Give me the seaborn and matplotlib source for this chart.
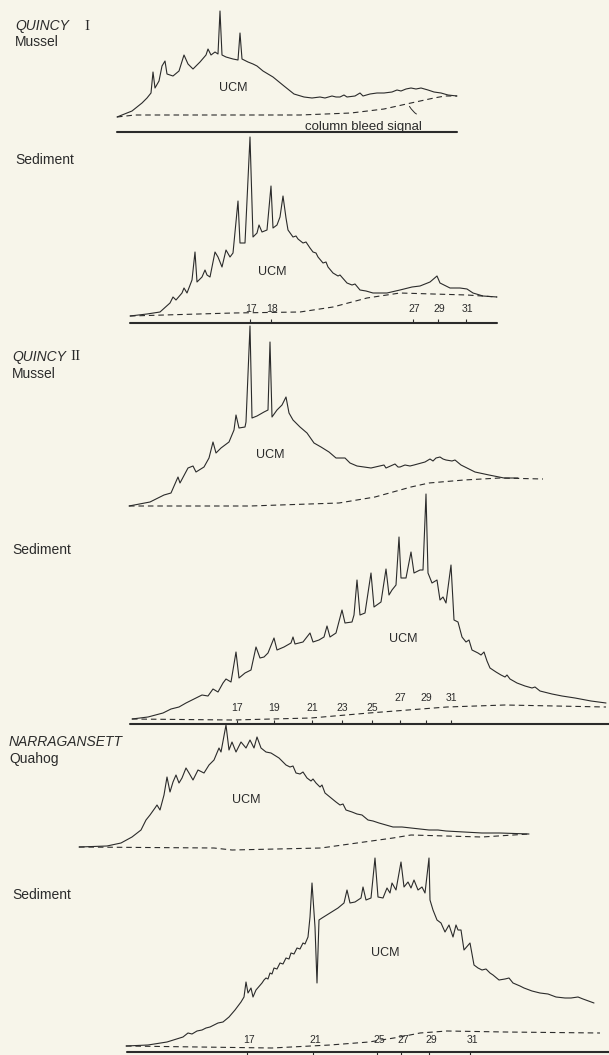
import pandas as pd
import matplotlib
matplotlib.use("Agg")
import matplotlib.pyplot as plt
import seaborn as sns

# ---- data: retention position (x) and detector signal height (y) per trace ----
# QUINCY I mussel
q1m_x = [117, 132, 142, 147, 151, 153, 155, 159, 162, 165, 167, 173, 179, 184, 188, 193, 200, 206, 208, 211,
         215, 218, 220, 222, 226, 233, 238, 240, 242, 248, 253, 257, 263, 273, 284, 294, 304, 312, 320, 325,
         332, 336, 340, 344, 347, 355, 360, 363, 370, 377, 384, 392, 397, 401, 406, 411, 416, 421, 428, 434,
         441, 448, 457]
q1m_y = [0, 6, 14, 19, 24, 45, 29, 36, 51, 56, 43, 41, 46, 62, 53, 48, 55, 62, 68, 62,
         65, 63, 106, 62, 60, 58, 57, 84, 58, 55, 53, 51, 46, 40, 31, 23, 20, 19, 20, 19,
         21, 20, 20, 22, 20, 21, 24, 21, 23, 24, 24, 25, 27, 26, 28, 29, 28, 29, 27, 25,
         24, 22, 21]
q1m_bleed_x = [117, 135, 233, 300, 351, 384, 411, 434, 445, 457]
q1m_bleed_y = [0, 2, 2, 2, 4, 8, 14, 19, 21, 21]

# QUINCY I sediment
q1s_x = [130, 147, 160, 170, 173, 176, 182, 184, 187, 192, 195, 197, 202, 205, 207, 210, 215, 218, 222, 226,
         230, 233, 238, 240, 245, 250, 253, 257, 259, 262, 267, 271, 273, 277, 280, 283, 286, 288, 293, 296,
         298, 303, 306, 310, 313, 316, 318, 323, 326, 328, 333, 338, 340, 347, 352, 355, 360, 366, 373, 387,
         400, 412, 420, 430, 437, 440, 450, 460, 467, 473, 483, 497]
q1s_y = [0, 2, 4, 13, 19, 16, 23, 28, 23, 36, 64, 34, 39, 46, 41, 39, 64, 59, 49, 66,
         59, 63, 115, 73, 73, 179, 79, 83, 91, 84, 86, 130, 88, 91, 99, 120, 98, 86, 79, 80,
         77, 73, 74, 68, 64, 63, 59, 53, 54, 49, 43, 40, 41, 33, 31, 32, 26, 25, 23, 23,
         26, 29, 30, 34, 40, 33, 28, 28, 27, 23, 20, 19]
q1s_bleed_x = [130, 233, 300, 333, 367, 400, 433, 467, 497]
q1s_bleed_y = [0, 3, 4, 9, 18, 23, 22, 21, 19]
q1s_ticks = [250, 271, 413, 438, 466]
q1s_labels = ["17", "18", "27", "29", "31"]

# QUINCY II mussel
q2m_x = [129, 150, 164, 171, 178, 180, 188, 193, 196, 204, 209, 213, 216, 221, 229, 234, 236, 239, 245, 246,
         250, 252, 257, 264, 268, 270, 272, 277, 282, 286, 289, 293, 300, 307, 314, 321, 329, 336, 345, 350,
         357, 371, 384, 386, 395, 398, 400, 405, 410, 414, 425, 430, 433, 436, 440, 443, 446, 452, 455, 461,
         475, 489, 504, 518]
q2m_y = [0, 4, 11, 13, 29, 23, 38, 40, 34, 39, 48, 64, 53, 58, 64, 76, 91, 78, 79, 84,
         180, 88, 90, 94, 96, 164, 89, 96, 101, 109, 93, 86, 79, 73, 63, 59, 54, 48, 48, 43,
         40, 38, 41, 38, 42, 39, 39, 41, 40, 41, 44, 47, 45, 48, 49, 47, 46, 45, 46, 41,
         34, 31, 28, 28]
q2m_bleed_x = [129, 250, 339, 375, 411, 429, 464, 500, 543]
q2m_bleed_y = [0, 0, 3, 9, 19, 23, 26, 28, 27]

# QUINCY II sediment
q2s_x = [132, 148, 163, 171, 179, 186, 192, 198, 202, 208, 213, 218, 223, 226, 231, 236, 239, 245, 251, 256,
         260, 264, 268, 274, 277, 284, 291, 293, 295, 303, 310, 313, 319, 324, 327, 330, 336, 342, 345, 352,
         354, 357, 360, 365, 371, 374, 381, 386, 389, 392, 396, 399, 401, 406, 411, 414, 420, 423, 426, 428,
         432, 437, 440, 443, 446, 451, 454, 458, 462, 466, 469, 472, 478, 481, 484, 487, 490, 496, 501, 505,
         507, 510, 517, 525, 532, 535, 540, 552, 562, 575, 591, 606]
q2s_y = [0, 2, 6, 10, 12, 16, 19, 22, 24, 23, 30, 27, 36, 40, 37, 67, 41, 46, 49, 72,
         61, 62, 66, 81, 69, 72, 76, 82, 75, 77, 86, 77, 79, 82, 93, 82, 86, 109, 96, 97,
         104, 139, 104, 106, 146, 112, 117, 150, 124, 129, 134, 182, 141, 141, 167, 146, 149, 149, 225, 146,
         136, 139, 119, 122, 116, 154, 99, 97, 82, 77, 79, 69, 66, 64, 67, 58, 51, 47, 44, 42,
         44, 40, 36, 33, 31, 32, 28, 25, 23, 21, 18, 16]
q2s_bleed_x = [132, 233, 311, 369, 408, 447, 505, 606]
q2s_bleed_y = [0, -1, 1, 6, 9, 12, 14, 12]
q2s_ticks = [237, 274, 312, 342, 372, 400, 426, 451]
q2s_labels = ["17", "19", "21", "23", "25", "27", "29", "31"]

# NARRAGANSETT quahog
nq_x = [79, 107, 121, 132, 141, 146, 150, 155, 157, 160, 164, 167, 170, 173, 176, 179, 182, 186, 189, 193,
        198, 204, 209, 214, 219, 221, 226, 229, 232, 236, 241, 246, 250, 254, 257, 261, 266, 271, 279, 286,
        290, 293, 296, 300, 303, 307, 311, 313, 316, 320, 322, 325, 336, 340, 343, 346, 352, 357, 362, 368,
        373, 379, 386, 393, 402, 411, 420, 429, 438, 446, 464, 482, 500, 529]
nq_y = [0, 1, 4, 10, 17, 27, 32, 39, 42, 37, 52, 70, 55, 65, 72, 64, 69, 79, 74, 67,
        77, 74, 82, 87, 99, 95, 122, 97, 105, 95, 105, 99, 107, 99, 110, 99, 95, 94, 89, 82,
        80, 81, 74, 73, 75, 69, 66, 68, 64, 60, 62, 54, 45, 42, 43, 37, 35, 33, 32, 27,
        26, 24, 22, 20, 20, 19, 18, 17, 17, 16, 15, 14, 14, 13]
nq_bleed_x = [79, 214, 232, 321, 357, 393, 411, 446, 482, 529]
nq_bleed_y = [0, -1, -3, -1, 4, 9, 12, 11, 10, 13]

# NARRAGANSETT sediment
ns_x = [126, 148, 167, 183, 188, 192, 197, 202, 206, 210, 214, 218, 223, 229, 235, 241, 244, 246, 248, 251,
        253, 256, 262, 264, 266, 268, 270, 272, 274, 277, 280, 283, 286, 289, 291, 294, 297, 300, 303, 305,
        308, 310, 312, 315, 317, 319, 322, 330, 338, 344, 347, 350, 355, 361, 363, 366, 371, 375, 378, 383,
        387, 390, 392, 396, 401, 404, 408, 411, 414, 418, 422, 425, 429, 430, 433, 437, 441, 445, 449, 453,
        456, 458, 461, 464, 470, 474, 478, 482, 486, 490, 493, 499, 505, 509, 513, 520, 524, 532, 540, 548,
        556, 565, 571, 578, 583, 594]
ns_y = [0, 1, 4, 9, 13, 12, 15, 16, 18, 19, 21, 23, 24, 29, 36, 44, 49, 64, 53, 58,
        49, 56, 63, 66, 68, 67, 73, 72, 78, 77, 83, 82, 88, 87, 93, 92, 98, 97, 103, 102,
        109, 129, 163, 119, 63, 126, 128, 133, 138, 143, 156, 143, 144, 148, 159, 146, 148, 188, 149, 148,
        158, 153, 163, 156, 184, 159, 164, 158, 166, 156, 159, 153, 188, 146, 136, 126, 123, 114, 121, 109,
        121, 116, 116, 96, 103, 81, 78, 76, 77, 73, 71, 66, 67, 68, 63, 60, 58, 55, 53, 52,
        49, 48, 48, 49, 47, 43]
ns_bleed_x = [126, 272, 330, 369, 400, 420, 447, 505, 600]
ns_bleed_y = [0, -2, 1, 4, 9, 13, 15, 14, 13]
ns_ticks = [247, 313, 377, 401, 429, 470]
ns_labels = ["17", "21", "25", "27", "29", "31"]

# ---- layout ----
W, H = 609, 1055
ink = "#2b2b2b"
sns.set_theme(style="white")
plt.rcParams["font.family"] = ["Liberation Sans", "DejaVu Sans"]

fig = plt.figure(figsize=(W / 100, H / 100), dpi=100)
fig.patch.set_facecolor("#f7f5ea")


def panel(base):
    # one data unit = one pixel; signal 0 sits on pixel row `base`
    ax = fig.add_axes([0, (H - base - 20) / H, 1, 260 / H])
    ax.set_xlim(0, W)
    ax.set_ylim(-20, 240)
    ax.axis("off")
    ax.patch.set_alpha(0)
    return ax


def trace(ax, x, y, bx, by):
    df = pd.DataFrame({"x": x, "y": y})
    sns.lineplot(data=df, x="x", y="y", ax=ax, sort=False, estimator=None,
                 color=ink, lw=0.8)
    bleed = pd.DataFrame({"x": bx, "y": by})
    sns.lineplot(data=bleed, x="x", y="y", ax=ax, sort=False, estimator=None,
                 color=ink, lw=0.8, linestyle=(0, (5, 3.5)))


def ftext(x, y, s, **kw):
    kw.setdefault("color", ink)
    kw.setdefault("fontsize", 10)
    fig.text(x / W, 1 - y / H, s, va="center", **kw)


# panel 1
ax1 = panel(117)
trace(ax1, q1m_x, q1m_y, q1m_bleed_x, q1m_bleed_y)
ax1.plot([117, 457], [-15, -15], color=ink, lw=1.5)
ax1.annotate("", xy=(419, 2), xytext=(408, 13),
             arrowprops=dict(arrowstyle="-", color=ink, lw=0.7,
                             connectionstyle="angle3,angleA=-60,angleB=170"))
ftext(363, 127, "column bleed signal", ha="center", fontsize=9.5)
ftext(233, 88, "UCM", ha="center", fontsize=9)
ftext(15, 26, "QUINCY", style="italic")
ftext(84, 26, "I", family="Liberation Serif", fontsize=11)
ftext(15, 42, "Mussel")

# panel 2
ax2 = panel(316)
trace(ax2, q1s_x, q1s_y, q1s_bleed_x, q1s_bleed_y)
ax2.plot([130, 497], [-7, -7], color=ink, lw=1.5)
ax2.vlines(q1s_ticks, -7, -3, color=ink, lw=0.8)
for tx, lab in zip(q1s_ticks, q1s_labels):
    ax2.text(tx + 1, 7, lab, ha="center", va="center", fontsize=7.5, color=ink)
ftext(272, 272, "UCM", ha="center", fontsize=9)
ftext(15, 160, "Sediment")

# panel 3
ax3 = panel(506)
trace(ax3, q2m_x, q2m_y, q2m_bleed_x, q2m_bleed_y)
ftext(270, 455, "UCM", ha="center", fontsize=9)
ftext(12, 357, "QUINCY", style="italic")
ftext(70, 357, "II", family="Liberation Serif", fontsize=11)
ftext(12, 374, "Mussel")

# panel 4
ax4 = panel(719)
trace(ax4, q2s_x, q2s_y, q2s_bleed_x, q2s_bleed_y)
ax4.plot([130, 609], [-5, -5], color=ink, lw=1.5)
ax4.vlines(q2s_ticks, -5, -1, color=ink, lw=0.8)
for i, (tx, lab) in enumerate(zip(q2s_ticks, q2s_labels)):
    ax4.text(tx, 21 if i >= 5 else 11, lab, ha="center", va="center", fontsize=7.5, color=ink)
ftext(403, 639, "UCM", ha="center", fontsize=9)
ftext(12, 550, "Sediment")

# panel 5
ax5 = panel(847)
trace(ax5, nq_x, nq_y, nq_bleed_x, nq_bleed_y)
ftext(246, 800, "UCM", ha="center", fontsize=9)
ftext(9, 742, "NARRAGANSETT", style="italic")
ftext(9, 759, "Quahog")

# panel 6
ax6 = panel(1046)
trace(ax6, ns_x, ns_y, ns_bleed_x, ns_bleed_y)
ax6.plot([127, 609], [-6, -6], color=ink, lw=1.5)
ax6.vlines(ns_ticks, -12, -6, color=ink, lw=0.8)
for tx, lab in zip(ns_ticks, ns_labels):
    ax6.text(tx + 2, 6, lab, ha="center", va="center", fontsize=7.5, color=ink)
ftext(385, 953, "UCM", ha="center", fontsize=9)
ftext(12, 895, "Sediment")

fig.savefig("out.png", dpi=100, facecolor=fig.get_facecolor())
